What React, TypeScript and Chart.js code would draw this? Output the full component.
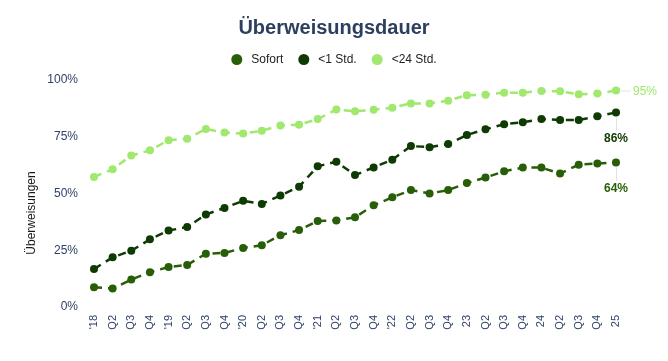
import React, { useEffect, useRef } from "react";
import { Chart, registerables } from "chart.js";

Chart.register(...registerables);

const TITLE = "Überweisungsdauer";
const Y_TITLE = "Überweisungen";

const labels = [
  "'18", "Q2", "Q3", "Q4",
  "'19", "Q2", "Q3", "Q4",
  "'20", "Q2", "Q3", "Q4",
  "'21", "Q2", "Q3", "Q4",
  "'22", "Q2", "Q3", "Q4",
  "23", "Q2", "Q3", "Q4",
  "24", "Q2", "Q3", "Q4",
  "25",
];

const sofort = [
  8.7, 8.1, 12.1, 15.3, 17.6, 18.5, 23.5, 23.8, 26.0, 27.2, 31.6, 33.9, 37.9, 38.1, 39.5,
  44.8, 48.3, 51.5, 50.0, 51.5, 54.6, 57.0, 59.8, 61.4, 61.4, 58.8, 62.7, 63.2, 63.7,
];

const unterEinerStunde = [
  16.7, 21.9, 24.8, 29.8, 33.7, 35.2, 40.8, 43.6, 46.8, 45.4, 49.1, 53.0, 62.0, 64.0, 58.1,
  61.5, 64.9, 70.9, 70.4, 71.8, 75.8, 78.3, 80.5, 81.4, 82.8, 82.4, 82.4, 84.0, 85.7,
];

const unter24Stunden = [
  57.3, 60.7, 66.7, 69.0, 73.5, 74.1, 78.4, 76.9, 76.4, 77.6, 80.0, 80.3, 82.8, 87.0, 86.2,
  86.9, 87.8, 89.7, 89.7, 90.9, 93.3, 93.5, 94.4, 94.4, 95.2, 95.0, 93.7, 94.0, 95.4,
];

const seriesNames = ["Sofort", "<1 Std.", "<24 Std."];
const seriesColors = ["#285e08", "#0e3a03", "#a0e86e"];
const yTicks = [0, 25, 50, 75, 100];

const FONT = "'Liberation Sans', Arial, sans-serif";
const AXIS_COLOR = "#2f4068";

const endLabelPlugin = {
  id: "endLabels",
  afterDatasetsDraw(chart: any) {
    const ctx = chart.ctx;
    const cfg = [
      { ds: 0, mode: "below", bold: true },
      { ds: 1, mode: "below", bold: true },
      { ds: 2, mode: "right", bold: false },
    ];
    ctx.save();
    cfg.forEach((c) => {
      const meta = chart.getDatasetMeta(c.ds);
      const data = chart.data.datasets[c.ds].data as number[];
      const last = meta.data[meta.data.length - 1];
      if (!last) return;
      const x = last.x;
      const y = last.y;
      const text = Math.round(data[data.length - 1]) + "%";
      ctx.strokeStyle = "#e2e2e2";
      ctx.lineWidth = 1;
      ctx.beginPath();
      if (c.mode === "right") {
        ctx.moveTo(x + 5, y + 0.5);
        ctx.lineTo(x + 15, y + 0.5);
      } else {
        ctx.moveTo(x + 0.5, y + 5);
        ctx.lineTo(x + 0.5, y + 19);
      }
      ctx.stroke();
      ctx.fillStyle = seriesColors[c.ds];
      ctx.font = (c.bold ? "bold " : "") + "12px " + FONT;
      ctx.textBaseline = "middle";
      if (c.mode === "right") {
        ctx.textAlign = "left";
        ctx.fillText(text, x + 17, y + 1);
      } else {
        ctx.textAlign = "center";
        ctx.fillText(text, x, y + 26);
      }
    });
    ctx.restore();
  },
};

const yTitlePlugin = {
  id: "yTitleManual",
  afterDraw(chart: any) {
    const ctx = chart.ctx;
    ctx.save();
    ctx.translate(32, 213);
    ctx.rotate(-Math.PI / 2);
    ctx.font = "12px " + FONT;
    ctx.fillStyle = "#1a1a1a";
    ctx.textAlign = "center";
    ctx.textBaseline = "middle";
    ctx.fillText(Y_TITLE, 0, 0);
    ctx.restore();
  },
};

const legendPlugin = {
  id: "customLegend",
  afterDraw(chart: any) {
    const ctx = chart.ctx;
    ctx.save();
    ctx.font = "12px " + FONT;
    const r = 5.5;
    const gapText = 9;
    const gapItem = 15;
    const widths = seriesNames.map((n) => ctx.measureText(n).width);
    const total =
      widths.reduce((a, w) => a + 2 * r + gapText + w, 0) + gapItem * (seriesNames.length - 1);
    let x = chart.width / 2 - total / 2;
    const y = 59.5;
    seriesNames.forEach((n, i) => {
      ctx.fillStyle = seriesColors[i];
      ctx.beginPath();
      ctx.arc(x + r, y, r, 0, Math.PI * 2);
      ctx.fill();
      x += 2 * r + gapText;
      ctx.fillStyle = "#222222";
      ctx.textAlign = "left";
      ctx.textBaseline = "middle";
      ctx.fillText(n, x, y);
      x += widths[i] + gapItem;
    });
    ctx.restore();
  },
};

export default function App() {
  const canvasRef = useRef<HTMLCanvasElement | null>(null);

  useEffect(() => {
    if (!canvasRef.current) return;
    const datasets = [sofort, unterEinerStunde, unter24Stunden].map((d, i) => ({
      label: seriesNames[i],
      data: d,
      borderColor: seriesColors[i],
      backgroundColor: seriesColors[i],
      pointBackgroundColor: seriesColors[i],
      pointBorderColor: seriesColors[i],
      pointBorderWidth: 0,
      pointRadius: 4,
      pointHoverRadius: 4,
      borderWidth: 2.5,
      borderDash: [8, 6],
      tension: 0,
      fill: false,
    }));

    const chart = new Chart(canvasRef.current, {
      type: "line",
      data: { labels, datasets },
      plugins: [endLabelPlugin, yTitlePlugin, legendPlugin],
      options: {
        animation: false,
        responsive: true,
        maintainAspectRatio: false,
        layout: { padding: { left: 0, right: 0, top: 0, bottom: 0 } },
        plugins: {
          title: {
            display: true,
            text: TITLE,
            color: "#2d3f5f",
            font: { family: FONT, size: 20, weight: "bold" },
            padding: { top: 16, bottom: 40 },
          },
          legend: { display: false },
          tooltip: { enabled: false },
        },
        scales: {
          x: {
            grid: { display: false, drawTicks: false },
            border: { display: false },
            afterFit: (scale: any) => {
              scale.height = 54;
            },
            ticks: {
              autoSkip: false,
              maxRotation: 90,
              minRotation: 90,
              padding: 8,
              color: AXIS_COLOR,
              font: { family: FONT, size: 11 },
            },
          },
          y: {
            min: 0,
            max: 100,
            grid: { display: false, drawTicks: false },
            border: { display: false },
            afterFit: (scale: any) => {
              scale.width = 94;
            },
            afterBuildTicks: (scale: any) => {
              scale.ticks = yTicks.map((v) => ({ value: v }));
            },
            ticks: {
              padding: 16,
              color: AXIS_COLOR,
              font: { family: FONT, size: 12 },
              callback: (v: any) => v + "%",
            },
          },
          yRight: {
            position: "right",
            min: 0,
            max: 100,
            grid: { display: false, drawTicks: false },
            border: { display: false },
            ticks: { display: false },
            afterFit: (scale: any) => {
              scale.width = 52;
            },
          },
        },
      },
    });
    return () => chart.destroy();
  }, []);

  return (
    <div style={{ position: "fixed", left: 0, top: 0, width: 668, height: 361, background: "#fff" }}>
      <canvas ref={canvasRef} />
    </div>
  );
}
